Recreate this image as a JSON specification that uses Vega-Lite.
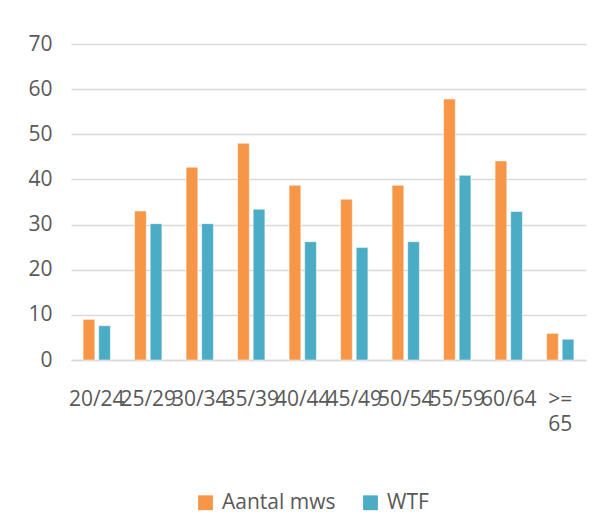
{
  "$schema": "https://vega.github.io/schema/vega-lite/v6.json",
  "autosize": "none",
  "width": 515,
  "height": 316,
  "padding": {"left": 71, "top": 44, "right": 17, "bottom": 163},
  "background": "white",
  "config": {
    "view": {"stroke": null},
    "font": "Open Sans",
    "axis": {"labelFont": "Open Sans", "labelColor": "#595959", "labelFontSize": 21, "gridColor": "#D9D9D9", "gridWidth": 1.5}
  },
  "data": {
    "values": [
      {"age": "20/24", "series": "Aantal mws", "value": 9.0},
      {"age": "20/24", "series": "WTF", "value": 7.6},
      {"age": "25/29", "series": "Aantal mws", "value": 33},
      {"age": "25/29", "series": "WTF", "value": 30.2},
      {"age": "30/34", "series": "Aantal mws", "value": 42.7},
      {"age": "30/34", "series": "WTF", "value": 30.2},
      {"age": "35/39", "series": "Aantal mws", "value": 48},
      {"age": "35/39", "series": "WTF", "value": 33.4},
      {"age": "40/44", "series": "Aantal mws", "value": 38.7},
      {"age": "40/44", "series": "WTF", "value": 26.2},
      {"age": "45/49", "series": "Aantal mws", "value": 35.6},
      {"age": "45/49", "series": "WTF", "value": 24.9},
      {"age": "50/54", "series": "Aantal mws", "value": 38.7},
      {"age": "50/54", "series": "WTF", "value": 26.2},
      {"age": "55/59", "series": "Aantal mws", "value": 57.8},
      {"age": "55/59", "series": "WTF", "value": 40.9},
      {"age": "60/64", "series": "Aantal mws", "value": 44.1},
      {"age": "60/64", "series": "WTF", "value": 32.9},
      {"age": ">= 65", "series": "Aantal mws", "value": 5.9},
      {"age": ">= 65", "series": "WTF", "value": 4.6}
    ]
  },
  "mark": {"type": "bar", "stroke": "white", "strokeWidth": 0.5},
  "encoding": {
    "x": {
      "field": "age", "type": "nominal", "sort": null, "title": null,
      "scale": {"paddingInner": 0.47, "paddingOuter": 0.235},
      "axis": {
        "labelAngle": 0, "labelOverlap": false, "labelBound": false, "labelPadding": 28,
        "ticks": false, "domainColor": "#D9D9D9", "domainWidth": 1.5,
        "labelExpr": "datum.label == '>= 65' ? ['>=', '65'] : datum.label", "labelLineHeight": 25
      }
    },
    "xOffset": {"field": "series", "type": "nominal", "scale": {"paddingInner": 0.25}},
    "y": {
      "field": "value", "type": "quantitative", "title": null,
      "scale": {"domain": [0, 70], "nice": false},
      "axis": {"values": [0, 10, 20, 30, 40, 50, 60, 70], "domain": false, "ticks": false, "labelPadding": 19}
    },
    "color": {
      "field": "series", "type": "nominal", "title": null,
      "scale": {"domain": ["Aantal mws", "WTF"], "range": ["#F79646", "#4BACC6"]},
      "legend": {
        "orient": "none", "legendX": 124, "legendY": 448, "direction": "horizontal",
        "symbolType": "square", "symbolSize": 220, "symbolStrokeWidth": 0,
        "labelFont": "Open Sans", "labelFontSize": 21, "labelColor": "#595959",
        "columnPadding": 24, "labelOffset": 6
      }
    }
  }
}
